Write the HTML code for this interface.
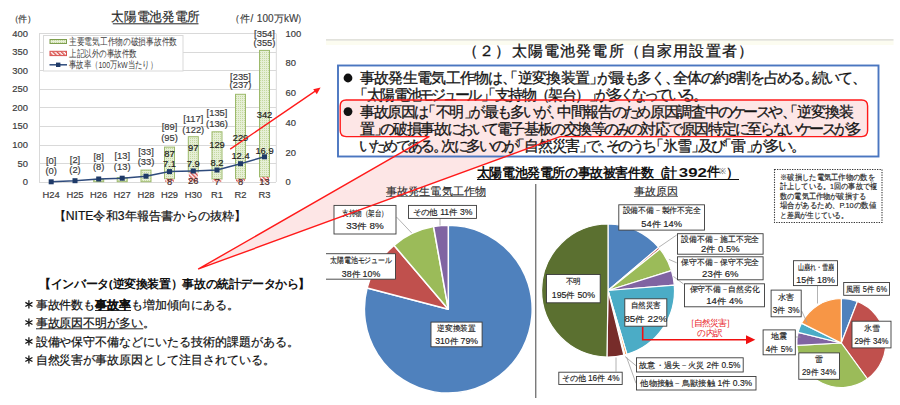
<!DOCTYPE html>
<html><head><meta charset="utf-8">
<style>
html,body{margin:0;padding:0;background:#fff;width:900px;height:405px;overflow:hidden}
body{font-family:"Liberation Sans",sans-serif;position:relative}
svg{position:absolute;left:0;top:0}
</style></head><body>
<svg width="900" height="405" viewBox="0 0 900 405" font-family="Liberation Sans, sans-serif">
<defs>
<pattern id="dots" width="2" height="2" patternUnits="userSpaceOnUse">
<rect width="2" height="2" fill="#e6efd6"/><rect width="1" height="1" fill="#c5d9a0"/>
</pattern>
<pattern id="hatch" width="3" height="3" patternUnits="userSpaceOnUse" patternTransform="rotate(-45)">
<rect width="3" height="3" fill="#fff"/><rect width="1.5" height="3" fill="#d9534f"/>
</pattern>
</defs>
<g stroke="#d9d9d9" stroke-width="1">
<line x1="39" y1="182.5" x2="276" y2="182.5"/>
<line x1="39" y1="163.5" x2="276" y2="163.5"/>
<line x1="39" y1="145.5" x2="276" y2="145.5"/>
<line x1="39" y1="126.5" x2="276" y2="126.5"/>
<line x1="39" y1="107.5" x2="276" y2="107.5"/>
<line x1="39" y1="89.5" x2="276" y2="89.5"/>
<line x1="39" y1="70.5" x2="276" y2="70.5"/>
<line x1="39" y1="52.5" x2="276" y2="52.5"/>
<line x1="39" y1="33.5" x2="276" y2="33.5"/>
<line x1="39.5" y1="33.5" x2="39.5" y2="182"/>
<line x1="276.3" y1="33.5" x2="276.3" y2="182"/>
</g>
<g stroke="#9dba6c" stroke-width="1" fill="url(#dots)">
<rect x="93.7" y="179.4" width="10" height="2.3"/>
<rect x="117.2" y="177.6" width="10" height="4.1"/>
<rect x="141.0" y="170.1" width="10" height="11.6"/>
<rect x="164.5" y="147.1" width="10" height="31.6"/>
<rect x="188.3" y="136.7" width="10" height="35.4"/>
<rect x="212.0" y="131.8" width="10" height="47.3"/>
<rect x="235.5" y="94.3" width="10" height="84.4"/>
<rect x="259.5" y="50.4" width="10" height="126.5"/>
</g>
<g fill="url(#hatch)">
<rect x="165.0" y="178.7" width="9" height="3.0"/>
<rect x="188.8" y="172.0" width="9" height="9.7"/>
<rect x="212.5" y="179.1" width="9" height="2.6"/>
<rect x="236.0" y="178.7" width="9" height="3.0"/>
<rect x="260.0" y="176.9" width="9" height="4.8"/>
</g>
<polyline fill="none" stroke="#2f4b7c" stroke-width="1.5" points="51.2,181.8 75.0,180.7 98.7,179.0 122.2,178.2 146.0,176.2 169.5,171.6 193.3,171.0 217.0,170.0 240.5,163.7 264.5,156.8"/>
<g fill="#1f3a68">
<rect x="48.7" y="179.3" width="5" height="5"/>
<rect x="72.5" y="178.2" width="5" height="5"/>
<rect x="96.2" y="176.5" width="5" height="5"/>
<rect x="119.7" y="175.7" width="5" height="5"/>
<rect x="143.5" y="173.7" width="5" height="5"/>
<rect x="167.0" y="169.1" width="5" height="5"/>
<rect x="190.8" y="168.5" width="5" height="5"/>
<rect x="214.5" y="167.5" width="5" height="5"/>
<rect x="238.0" y="161.2" width="5" height="5"/>
<rect x="262.0" y="154.3" width="5" height="5"/>
</g>
<rect x="43.5" y="35.5" width="139.5" height="35.5" fill="#fff" stroke="#d9d9d9"/>
<rect x="50" y="39.5" width="16.5" height="4" fill="url(#dots)" stroke="#7f9f4f" stroke-width="1"/>
<rect x="50" y="51.3" width="16.5" height="4.3" fill="url(#hatch)" stroke="#d9534f" stroke-width="1"/>
<line x1="49.5" y1="64.8" x2="67" y2="64.8" stroke="#2f4b7c" stroke-width="1.5"/>
<rect x="56" y="62.6" width="4.4" height="4.4" fill="#1f3a68"/>
<text x="28" y="181.7" font-size="9.4" fill="#3a3a3a" text-anchor="end" dominant-baseline="central" stroke="#3a3a3a" stroke-width="0.18">0</text>
<text x="28" y="163.1" font-size="9.4" fill="#3a3a3a" text-anchor="end" dominant-baseline="central" stroke="#3a3a3a" stroke-width="0.18">50</text>
<text x="28" y="144.5" font-size="9.4" fill="#3a3a3a" text-anchor="end" dominant-baseline="central" stroke="#3a3a3a" stroke-width="0.18">100</text>
<text x="28" y="125.9" font-size="9.4" fill="#3a3a3a" text-anchor="end" dominant-baseline="central" stroke="#3a3a3a" stroke-width="0.18">150</text>
<text x="28" y="107.3" font-size="9.4" fill="#3a3a3a" text-anchor="end" dominant-baseline="central" stroke="#3a3a3a" stroke-width="0.18">200</text>
<text x="28" y="88.7" font-size="9.4" fill="#3a3a3a" text-anchor="end" dominant-baseline="central" stroke="#3a3a3a" stroke-width="0.18">250</text>
<text x="28" y="70.2" font-size="9.4" fill="#3a3a3a" text-anchor="end" dominant-baseline="central" stroke="#3a3a3a" stroke-width="0.18">300</text>
<text x="28" y="51.6" font-size="9.4" fill="#3a3a3a" text-anchor="end" dominant-baseline="central" stroke="#3a3a3a" stroke-width="0.18">350</text>
<text x="28" y="33.0" font-size="9.4" fill="#3a3a3a" text-anchor="end" dominant-baseline="central" stroke="#3a3a3a" stroke-width="0.18">400</text>
<text x="285.5" y="181.7" font-size="9.4" fill="#3a3a3a" text-anchor="start" dominant-baseline="central" stroke="#3a3a3a" stroke-width="0.18">0</text>
<text x="285.5" y="152.0" font-size="9.4" fill="#3a3a3a" text-anchor="start" dominant-baseline="central" stroke="#3a3a3a" stroke-width="0.18">20</text>
<text x="285.5" y="122.2" font-size="9.4" fill="#3a3a3a" text-anchor="start" dominant-baseline="central" stroke="#3a3a3a" stroke-width="0.18">40</text>
<text x="285.5" y="92.5" font-size="9.4" fill="#3a3a3a" text-anchor="start" dominant-baseline="central" stroke="#3a3a3a" stroke-width="0.18">60</text>
<text x="285.5" y="62.7" font-size="9.4" fill="#3a3a3a" text-anchor="start" dominant-baseline="central" stroke="#3a3a3a" stroke-width="0.18">80</text>
<text x="285.5" y="33.0" font-size="9.4" fill="#3a3a3a" text-anchor="start" dominant-baseline="central" stroke="#3a3a3a" stroke-width="0.18">100</text>
<text x="51.2" y="194.5" font-size="9.4" fill="#3a3a3a" text-anchor="middle" dominant-baseline="central" stroke="#3a3a3a" stroke-width="0.18">H24</text>
<text x="75" y="194.5" font-size="9.4" fill="#3a3a3a" text-anchor="middle" dominant-baseline="central" stroke="#3a3a3a" stroke-width="0.18">H25</text>
<text x="98.7" y="194.5" font-size="9.4" fill="#3a3a3a" text-anchor="middle" dominant-baseline="central" stroke="#3a3a3a" stroke-width="0.18">H26</text>
<text x="122.2" y="194.5" font-size="9.4" fill="#3a3a3a" text-anchor="middle" dominant-baseline="central" stroke="#3a3a3a" stroke-width="0.18">H27</text>
<text x="146" y="194.5" font-size="9.4" fill="#3a3a3a" text-anchor="middle" dominant-baseline="central" stroke="#3a3a3a" stroke-width="0.18">H28</text>
<text x="169.5" y="194.5" font-size="9.4" fill="#3a3a3a" text-anchor="middle" dominant-baseline="central" stroke="#3a3a3a" stroke-width="0.18">H29</text>
<text x="193.3" y="194.5" font-size="9.4" fill="#3a3a3a" text-anchor="middle" dominant-baseline="central" stroke="#3a3a3a" stroke-width="0.18">H30</text>
<text x="217" y="194.5" font-size="9.4" fill="#3a3a3a" text-anchor="middle" dominant-baseline="central" stroke="#3a3a3a" stroke-width="0.18">R1</text>
<text x="240.5" y="194.5" font-size="9.4" fill="#3a3a3a" text-anchor="middle" dominant-baseline="central" stroke="#3a3a3a" stroke-width="0.18">R2</text>
<text x="264.5" y="194.5" font-size="9.4" fill="#3a3a3a" text-anchor="middle" dominant-baseline="central" stroke="#3a3a3a" stroke-width="0.18">R3</text>
<text x="51.2" y="160.7" font-size="9.4" fill="#3a3a3a" text-anchor="middle" dominant-baseline="central" stroke="#3a3a3a" stroke-width="0.18">[0]</text>
<text x="51.2" y="170.4" font-size="9.4" fill="#3a3a3a" text-anchor="middle" dominant-baseline="central" stroke="#3a3a3a" stroke-width="0.18">(0)</text>
<text x="75" y="159.3" font-size="9.4" fill="#3a3a3a" text-anchor="middle" dominant-baseline="central" stroke="#3a3a3a" stroke-width="0.18">[2]</text>
<text x="75" y="169.6" font-size="9.4" fill="#3a3a3a" text-anchor="middle" dominant-baseline="central" stroke="#3a3a3a" stroke-width="0.18">(2)</text>
<text x="98.7" y="156.7" font-size="9.4" fill="#3a3a3a" text-anchor="middle" dominant-baseline="central" stroke="#3a3a3a" stroke-width="0.18">[8]</text>
<text x="98.7" y="166.7" font-size="9.4" fill="#3a3a3a" text-anchor="middle" dominant-baseline="central" stroke="#3a3a3a" stroke-width="0.18">(8)</text>
<text x="122.2" y="155.5" font-size="9.4" fill="#3a3a3a" text-anchor="middle" dominant-baseline="central" stroke="#3a3a3a" stroke-width="0.18">[13]</text>
<text x="122.2" y="166" font-size="9.4" fill="#3a3a3a" text-anchor="middle" dominant-baseline="central" stroke="#3a3a3a" stroke-width="0.18">(13)</text>
<text x="146" y="151" font-size="9.4" fill="#3a3a3a" text-anchor="middle" dominant-baseline="central" stroke="#3a3a3a" stroke-width="0.18">[33]</text>
<text x="146" y="161.5" font-size="9.4" fill="#3a3a3a" text-anchor="middle" dominant-baseline="central" stroke="#3a3a3a" stroke-width="0.18">(33)</text>
<text x="169.5" y="126" font-size="9.4" fill="#3a3a3a" text-anchor="middle" dominant-baseline="central" stroke="#3a3a3a" stroke-width="0.18">[89]</text>
<text x="169.5" y="137.5" font-size="9.4" fill="#3a3a3a" text-anchor="middle" dominant-baseline="central" stroke="#3a3a3a" stroke-width="0.18">(95)</text>
<text x="193.3" y="118" font-size="9.4" fill="#3a3a3a" text-anchor="middle" dominant-baseline="central" stroke="#3a3a3a" stroke-width="0.18">[117]</text>
<text x="193.3" y="129" font-size="9.4" fill="#3a3a3a" text-anchor="middle" dominant-baseline="central" stroke="#3a3a3a" stroke-width="0.18">(122)</text>
<text x="217" y="112.5" font-size="9.4" fill="#3a3a3a" text-anchor="middle" dominant-baseline="central" stroke="#3a3a3a" stroke-width="0.18">[135]</text>
<text x="217" y="123.5" font-size="9.4" fill="#3a3a3a" text-anchor="middle" dominant-baseline="central" stroke="#3a3a3a" stroke-width="0.18">(136)</text>
<text x="240.5" y="76" font-size="9.4" fill="#3a3a3a" text-anchor="middle" dominant-baseline="central" stroke="#3a3a3a" stroke-width="0.18">[235]</text>
<text x="240.5" y="84.5" font-size="9.4" fill="#3a3a3a" text-anchor="middle" dominant-baseline="central" stroke="#3a3a3a" stroke-width="0.18">(237)</text>
<text x="264.5" y="33.6" font-size="9.4" fill="#3a3a3a" text-anchor="middle" dominant-baseline="central" stroke="#3a3a3a" stroke-width="0.18">[354]</text>
<text x="264.5" y="42.8" font-size="9.4" fill="#3a3a3a" text-anchor="middle" dominant-baseline="central" stroke="#3a3a3a" stroke-width="0.18">(355)</text>
<text x="169.5" y="153" font-size="9.4" fill="#222" text-anchor="middle" dominant-baseline="central" stroke="#222" stroke-width="0.18">87</text>
<text x="169.5" y="163.7" font-size="9.4" fill="#222" text-anchor="middle" dominant-baseline="central" stroke="#222" stroke-width="0.18">7.1</text>
<text x="169.5" y="181" font-size="9.4" fill="#4a2a2a" text-anchor="middle" dominant-baseline="central" stroke="#4a2a2a" stroke-width="0.18">8</text>
<text x="193.3" y="147.6" font-size="9.4" fill="#222" text-anchor="middle" dominant-baseline="central" stroke="#222" stroke-width="0.18">97</text>
<text x="193.3" y="163" font-size="9.4" fill="#222" text-anchor="middle" dominant-baseline="central" stroke="#222" stroke-width="0.18">7.9</text>
<text x="193.3" y="180" font-size="9.4" fill="#4a2a2a" text-anchor="middle" dominant-baseline="central" stroke="#4a2a2a" stroke-width="0.18">26</text>
<text x="217" y="144" font-size="9.4" fill="#222" text-anchor="middle" dominant-baseline="central" stroke="#222" stroke-width="0.18">129</text>
<text x="217" y="162.5" font-size="9.4" fill="#222" text-anchor="middle" dominant-baseline="central" stroke="#222" stroke-width="0.18">8.2</text>
<text x="217" y="181" font-size="9.4" fill="#4a2a2a" text-anchor="middle" dominant-baseline="central" stroke="#4a2a2a" stroke-width="0.18">7</text>
<text x="240.5" y="137" font-size="9.4" fill="#222" text-anchor="middle" dominant-baseline="central" stroke="#222" stroke-width="0.18">229</text>
<text x="240.5" y="155" font-size="9.4" fill="#222" text-anchor="middle" dominant-baseline="central" stroke="#222" stroke-width="0.18">12.4</text>
<text x="240.5" y="181" font-size="9.4" fill="#4a2a2a" text-anchor="middle" dominant-baseline="central" stroke="#4a2a2a" stroke-width="0.18">8</text>
<text x="264.5" y="114.3" font-size="9.4" fill="#222" text-anchor="middle" dominant-baseline="central" stroke="#222" stroke-width="0.18">342</text>
<text x="264.5" y="150" font-size="9.4" fill="#222" text-anchor="middle" dominant-baseline="central" stroke="#222" stroke-width="0.18">16.9</text>
<text x="264.5" y="181" font-size="9.4" fill="#4a2a2a" text-anchor="middle" dominant-baseline="central" stroke="#4a2a2a" stroke-width="0.18">13</text>
<g font-size="9.5" fill="#404040" dominant-baseline="central">
<text x="69" y="41.5" textLength="108" lengthAdjust="spacingAndGlyphs">主要電気工作物の破損事故件数</text>
<text x="69" y="53" textLength="68" lengthAdjust="spacingAndGlyphs">上記以外の事故件数</text>
<text x="69" y="64.5" textLength="88" lengthAdjust="spacingAndGlyphs">事故率（100万kW当たり）</text>
</g>
<text x="155.6" y="17.3" font-size="12.5" fill="#262626" text-anchor="middle" dominant-baseline="central" textLength="88.5" lengthAdjust="spacingAndGlyphs" stroke="#262626" stroke-width="0.15">太陽電池発電所</text>
<line x1="112.8" y1="23.8" x2="198.5" y2="23.8" stroke="#262626" stroke-width="1"/>
<text y="17.5" font-size="10" fill="#404040" dominant-baseline="central" stroke="#404040" stroke-width="0.15"><tspan x="230.3 240.4 250.5 256.8 262.5 268.1 273.9 284.0 289.1 296.7">（件/100万kW）</tspan></text>
<text y="18.5" font-size="8.8" fill="#404040" dominant-baseline="central" stroke="#404040" stroke-width="0.2"><tspan x="9.6 18.4 27.1">（件）</tspan></text>
<text x="150" y="215.6" font-size="12" fill="#111" text-anchor="middle" dominant-baseline="central" textLength="193" lengthAdjust="spacingAndGlyphs" stroke="#111" stroke-width="0.2">【NITE令和3年報告書からの抜粋】</text>
<path d="M346.2,100 H861.6 Q867.6,100 867.6,106 V130.6 Q867.6,136.6 861.6,136.6 H560 L198.6,268.9 L429,136.6 H346.2 Q340.2,136.6 340.2,130.6 V106 Q340.2,100 346.2,100 Z" fill="#fde6e6" stroke="none"/>
<rect x="326" y="40.5" width="567.5" height="4.5" fill="#fcfcf0"/>
<line x1="326" y1="39.8" x2="893.5" y2="39.8" stroke="#d8d8d0" stroke-width="1.3"/>
<text y="50.5" font-size="14.6" fill="#151515" dominant-baseline="central" stroke="#151515" stroke-width="0.3"><tspan x="463.1 479.3 495.4 511.6 527.8 543.9 560.1 576.2 592.4 608.6 624.7 640.9 657.1 673.2 689.4 705.6 721.7 737.9">（２）太陽電池発電所（自家用設置者）</tspan></text>
<rect x="338" y="65.5" width="540.5" height="91" fill="none" stroke="#4a76c0" stroke-width="1.9"/>
<circle cx="348" cy="78" r="4.4" fill="#111"/>
<circle cx="348" cy="111.6" r="4.4" fill="#111"/>
<text y="78" font-size="14.6" fill="#151515" dominant-baseline="central" stroke="#151515" stroke-width="0.3"><tspan x="359.8 374.1 388.4 402.7 417.0 431.3 445.6 459.9 474.2 487.8 501.5 503.2 517.7 532.0 546.3 560.6 574.9 589.3 596.6 610.2 623.7 637.3 650.9 664.6 672.6 686.9 700.5 714.1 728.5 736.3 749.9 763.5 777.1 789.9 803.7 811.7 825.3 838.1 851.9">事故発生電気工作物は、「逆変換装置」が最も多く、全体の約8割を占める。続いて、</tspan></text>
<text y="94.7" font-size="14.6" fill="#151515" dominant-baseline="central" stroke="#151515" stroke-width="0.3"><tspan x="353.0 366.9 380.2 393.5 406.8 419.4 431.4 443.4 455.3 467.3 480.6 481.1 495.1 508.4 521.7 535.0 548.3 561.6 574.8 588.8 595.1 607.7 620.3 632.3 644.2 656.2 668.2 680.1 693.4">「太陽電池モジュール」「支持物（架台）」が多くなっている。</tspan></text>
<text y="111.8" font-size="14.6" fill="#151515" dominant-baseline="central" stroke="#151515" stroke-width="0.3"><tspan x="359.6 373.5 387.4 401.2 414.4 421.3 435.5 449.4 463.6 470.4 483.6 496.8 510.0 523.1 535.6 549.2 556.7 570.6 584.4 598.3 611.5 624.0 636.4 649.6 663.5 677.3 691.2 705.1 718.3 730.7 743.2 755.7 768.2 781.7 782.9 797.2 811.0 824.9 838.8">事故原因は「不明」が最も多いが、中間報告のため原因調査中のケースや、「逆変換装</tspan></text>
<text y="128.5" font-size="14.6" fill="#151515" dominant-baseline="central" stroke="#151515" stroke-width="0.3"><tspan x="359.5 373.6 380.2 393.2 406.8 420.4 434.0 447.0 459.2 471.5 483.8 496.7 510.3 524.0 537.6 550.5 563.5 577.1 590.7 603.7 615.9 628.2 641.1 654.8 667.7 680.7 694.3 707.9 721.5 734.5 747.4 760.4 772.6 784.9 797.2 809.4 821.7 833.9 846.9">置」の破損事故において電子基板の交換等のみの対応で原因特定に至らないケースが多</tspan></text>
<text y="146.3" font-size="14.6" fill="#151515" dominant-baseline="central" stroke="#151515" stroke-width="0.3"><tspan x="358.8 371.0 383.3 395.5 407.7 419.9 433.3 440.6 453.5 466.4 479.3 491.5 503.7 510.2 524.3 537.9 551.5 565.1 579.2 585.7 599.1 605.7 617.9 630.1 642.3 648.9 663.0 676.6 690.6 697.9 710.8 717.3 731.4 745.5 752.1 764.9 777.8 791.3">いためである。次に多いのが「自然災害」で、そのうち「氷雪」及び「雷」が多い。</tspan></text>
<text y="172.3" font-size="13" fill="#111" dominant-baseline="central" font-weight="bold"><tspan x="476.8 489.4 502.0 514.6 527.2 539.8 552.4 565.0 577.6 590.2 602.8 615.4 628.0 640.6">太陽電池発電所の事故被害件数</tspan></text>
<text x="652.5" y="172.3" font-size="13" fill="#111" dominant-baseline="central" font-weight="bold">（</text>
<text x="664.3" y="172.3" font-size="13" fill="#111" dominant-baseline="central" font-weight="bold">計</text>
<text x="678.8" y="172.3" font-size="13.6" fill="#111" dominant-baseline="central" font-weight="bold" textLength="28" lengthAdjust="spacingAndGlyphs">392</text>
<text x="707.3" y="172.3" font-size="12.5" fill="#111" dominant-baseline="central" font-weight="bold">件</text>
<text x="718.5" y="171" font-size="8.5" fill="#666" dominant-baseline="central">※</text>
<text x="726.2" y="172.3" font-size="13" fill="#111" dominant-baseline="central" font-weight="bold">）</text>
<line x1="477" y1="179.5" x2="739" y2="179.5" stroke="#111" stroke-width="1"/>
<line x1="535.8" y1="184" x2="535.8" y2="398" stroke="#444" stroke-width="1"/>
<text x="436" y="190.9" font-size="11.2" fill="#2a2a2a" text-anchor="middle" dominant-baseline="central" textLength="100" lengthAdjust="spacingAndGlyphs" stroke="#2a2a2a" stroke-width="0.12">事故発生電気工作物</text>
<line x1="386" y1="196.5" x2="486" y2="196.5" stroke="#555" stroke-width="0.8"/>
<text x="656" y="190.5" font-size="11.2" fill="#2a2a2a" text-anchor="middle" dominant-baseline="central" textLength="44" lengthAdjust="spacingAndGlyphs" stroke="#2a2a2a" stroke-width="0.12">事故原因</text>
<line x1="634" y1="196.5" x2="678" y2="196.5" stroke="#555" stroke-width="0.8"/>
<path d="M448.30,309.20 L448.30,225.30 A83.9,83.9 0 1 1 367.14,287.92 Z" fill="#4f81bd" stroke="#fff" stroke-width="1.5" stroke-linejoin="round"/>
<path d="M448.30,309.20 L367.14,287.92 A83.9,83.9 0 0 1 393.91,245.31 Z" fill="#c0504d" stroke="#fff" stroke-width="1.5" stroke-linejoin="round"/>
<path d="M448.30,309.20 L393.91,245.31 A83.9,83.9 0 0 1 433.58,226.60 Z" fill="#9bbb59" stroke="#fff" stroke-width="1.5" stroke-linejoin="round"/>
<path d="M448.30,309.20 L433.58,226.60 A83.9,83.9 0 0 1 448.30,225.30 Z" fill="#8064a2" stroke="#fff" stroke-width="1.5" stroke-linejoin="round"/>
<path d="M608.00,290.50 L608.00,224.00 A66.5,66.5 0 0 1 658.64,247.39 Z" fill="#4f81bd" stroke="#fff" stroke-width="1.2" stroke-linejoin="round"/>
<path d="M608.00,290.50 L658.64,247.39 A66.5,66.5 0 0 1 659.99,249.04 Z" fill="#c0504d" stroke="#fff" stroke-width="1.2" stroke-linejoin="round"/>
<path d="M608.00,290.50 L659.99,249.04 A66.5,66.5 0 0 1 671.44,270.56 Z" fill="#9bbb59" stroke="#fff" stroke-width="1.2" stroke-linejoin="round"/>
<path d="M608.00,290.50 L671.44,270.56 A66.5,66.5 0 0 1 674.29,285.18 Z" fill="#8064a2" stroke="#fff" stroke-width="1.2" stroke-linejoin="round"/>
<path d="M608.00,290.50 L674.29,285.18 A66.5,66.5 0 0 1 626.92,354.25 Z" fill="#4bacc6" stroke="#fff" stroke-width="1.2" stroke-linejoin="round"/>
<path d="M608.00,290.50 L626.92,354.25 A66.5,66.5 0 0 1 624.87,354.83 Z" fill="#f79646" stroke="#fff" stroke-width="1.2" stroke-linejoin="round"/>
<path d="M608.00,290.50 L624.87,354.83 A66.5,66.5 0 0 1 623.83,355.09 Z" fill="#b9cde5" stroke="#fff" stroke-width="1.2" stroke-linejoin="round"/>
<path d="M608.00,290.50 L623.83,355.09 A66.5,66.5 0 0 1 606.93,356.99 Z" fill="#772c2a" stroke="#fff" stroke-width="1.2" stroke-linejoin="round"/>
<path d="M608.00,290.50 L606.93,356.99 A66.5,66.5 0 0 1 608.00,224.00 Z" fill="#5b7030" stroke="#fff" stroke-width="1.2" stroke-linejoin="round"/>
<path d="M841.30,343.00 L841.30,298.50 A44.5,44.5 0 0 1 857.38,301.50 Z" fill="#4f81bd" stroke="#fff" stroke-width="1.2" stroke-linejoin="round"/>
<path d="M841.30,343.00 L857.38,301.50 A44.5,44.5 0 0 1 867.46,379.00 Z" fill="#c0504d" stroke="#fff" stroke-width="1.2" stroke-linejoin="round"/>
<path d="M841.30,343.00 L867.46,379.00 A44.5,44.5 0 0 1 796.87,345.47 Z" fill="#9bbb59" stroke="#fff" stroke-width="1.2" stroke-linejoin="round"/>
<path d="M841.30,343.00 L796.87,345.47 A44.5,44.5 0 0 1 798.08,332.41 Z" fill="#8064a2" stroke="#fff" stroke-width="1.2" stroke-linejoin="round"/>
<path d="M841.30,343.00 L798.08,332.41 A44.5,44.5 0 0 1 801.47,323.16 Z" fill="#4bacc6" stroke="#fff" stroke-width="1.2" stroke-linejoin="round"/>
<path d="M841.30,343.00 L801.47,323.16 A44.5,44.5 0 0 1 841.30,298.50 Z" fill="#f79646" stroke="#fff" stroke-width="1.2" stroke-linejoin="round"/>
<g stroke="#a0a0a0" stroke-width="0.8" fill="none">
<polyline points="396.5,217 411.7,233"/>
<polyline points="440,219 440,225.5"/>
<polyline points="676.7,235 658.9,247.2"/>
<polyline points="676.7,262.8 668.9,259.4"/>
<polyline points="683.5,284 673.5,276.5"/>
<polyline points="636,365.7 625,356.5"/>
<polyline points="636,383.3 626.5,357"/>
<polyline points="616,371.7 616,357.5"/>
<polyline points="817.5,286 817.5,303.5"/>
<polyline points="801.7,311 807,322.5"/>
<polyline points="795.8,337 800.5,337"/>
</g>
<rect x="431.0" y="322.1" width="51.1" height="24.7" fill="#fff" stroke="#3a3a3a" stroke-width="0.9"/>
<text x="456.6" y="328.7" font-size="8.2" fill="#222" text-anchor="middle" dominant-baseline="central" textLength="38.6" lengthAdjust="spacingAndGlyphs" stroke="#222" stroke-width="0.15">逆変換装置</text>
<text x="456.6" y="341.7" font-size="8.2" fill="#222" text-anchor="middle" dominant-baseline="central" textLength="42.8" lengthAdjust="spacingAndGlyphs" stroke="#222" stroke-width="0.15">310件 79%</text>
<rect x="326" y="253.7" width="69.5" height="25.5" fill="#fff"/>
<polyline points="326,253.7 395.5,253.7 395.5,279.2 326,279.2" fill="none" stroke="#3a3a3a" stroke-width="0.9"/>
<text x="361.0" y="260.8" font-size="8.2" fill="#222" text-anchor="middle" dominant-baseline="central" textLength="62" lengthAdjust="spacingAndGlyphs" stroke="#222" stroke-width="0.15">太陽電池モジュール</text>
<text x="361.0" y="274.6" font-size="8.2" fill="#222" text-anchor="middle" dominant-baseline="central" textLength="38.5" lengthAdjust="spacingAndGlyphs" stroke="#222" stroke-width="0.15">38件 10%</text>
<rect x="334.0" y="205.4" width="62.0" height="28.6" fill="#fff" stroke="#3a3a3a" stroke-width="0.9"/>
<text x="365.0" y="213.5" font-size="8.2" fill="#222" text-anchor="middle" dominant-baseline="central" textLength="46" lengthAdjust="spacingAndGlyphs" stroke="#222" stroke-width="0.15">支持物（架台）</text>
<text x="365.0" y="226.6" font-size="8.2" fill="#222" text-anchor="middle" dominant-baseline="central" textLength="37.5" lengthAdjust="spacingAndGlyphs" stroke="#222" stroke-width="0.15">33件 8%</text>
<rect x="408.5" y="205.4" width="68.0" height="13.0" fill="#fff" stroke="#3a3a3a" stroke-width="0.9"/>
<text x="442.5" y="212.3" font-size="8.2" fill="#222" text-anchor="middle" dominant-baseline="central" textLength="60" lengthAdjust="spacingAndGlyphs" stroke="#222" stroke-width="0.15">その他 11件 3%</text>
<rect x="618.8" y="204.8" width="85.7" height="25.3" fill="#fff" stroke="#3a3a3a" stroke-width="0.9"/>
<text x="661.6" y="210.7" font-size="8.2" fill="#222" text-anchor="middle" dominant-baseline="central" textLength="78" lengthAdjust="spacingAndGlyphs" stroke="#222" stroke-width="0.15">設備不備－製作不完全</text>
<text x="661.6" y="224.2" font-size="8.2" fill="#222" text-anchor="middle" dominant-baseline="central" textLength="40.7" lengthAdjust="spacingAndGlyphs" stroke="#222" stroke-width="0.15">54件 14%</text>
<rect x="677.5" y="233.7" width="85.6" height="20.5" fill="#fff" stroke="#3a3a3a" stroke-width="0.9"/>
<text x="720.3" y="239" font-size="8.2" fill="#222" text-anchor="middle" dominant-baseline="central" textLength="78" lengthAdjust="spacingAndGlyphs" stroke="#222" stroke-width="0.15">設備不備－施工不完全</text>
<text x="720.3" y="249.5" font-size="8.2" fill="#222" text-anchor="middle" dominant-baseline="central" textLength="38.5" lengthAdjust="spacingAndGlyphs" stroke="#222" stroke-width="0.15">2件 0.5%</text>
<rect x="677.5" y="256.8" width="85.6" height="23.0" fill="#fff" stroke="#3a3a3a" stroke-width="0.9"/>
<text x="720.3" y="262.5" font-size="8.2" fill="#222" text-anchor="middle" dominant-baseline="central" textLength="78" lengthAdjust="spacingAndGlyphs" stroke="#222" stroke-width="0.15">保守不備－保守不完全</text>
<text x="720.3" y="274.5" font-size="8.2" fill="#222" text-anchor="middle" dominant-baseline="central" textLength="36.4" lengthAdjust="spacingAndGlyphs" stroke="#222" stroke-width="0.15">23件 6%</text>
<rect x="684.5" y="283.8" width="80.0" height="23.0" fill="#fff" stroke="#3a3a3a" stroke-width="0.9"/>
<text x="724.5" y="289.5" font-size="8.2" fill="#222" text-anchor="middle" dominant-baseline="central" textLength="70" lengthAdjust="spacingAndGlyphs" stroke="#222" stroke-width="0.15">保守不備－自然劣化</text>
<text x="724.5" y="301.5" font-size="8.2" fill="#222" text-anchor="middle" dominant-baseline="central" textLength="36.4" lengthAdjust="spacingAndGlyphs" stroke="#222" stroke-width="0.15">14件 4%</text>
<rect x="546.5" y="274.5" width="53.7" height="28.3" fill="#fff" stroke="#3a3a3a" stroke-width="0.9"/>
<text x="573.4" y="281.5" font-size="8.2" fill="#222" text-anchor="middle" dominant-baseline="central" textLength="15" lengthAdjust="spacingAndGlyphs" stroke="#222" stroke-width="0.15">不明</text>
<text x="573.4" y="295" font-size="8.2" fill="#222" text-anchor="middle" dominant-baseline="central" textLength="43.3" lengthAdjust="spacingAndGlyphs" stroke="#222" stroke-width="0.15">195件 50%</text>
<rect x="624.8" y="298.8" width="42.0" height="27.4" fill="#fff" stroke="#3a3a3a" stroke-width="0.9"/>
<text x="645.8" y="305.5" font-size="8.2" fill="#222" text-anchor="middle" dominant-baseline="central" textLength="30" lengthAdjust="spacingAndGlyphs" stroke="#222" stroke-width="0.15">自然災害</text>
<text x="645.8" y="319.5" font-size="8.2" fill="#222" text-anchor="middle" dominant-baseline="central" textLength="42.8" lengthAdjust="spacingAndGlyphs" stroke="#222" stroke-width="0.15">85件 22%</text>
<rect x="636.5" y="357.8" width="106.7" height="14.2" fill="#fff" stroke="#3a3a3a" stroke-width="0.9"/>
<text x="689.9" y="365.3" font-size="8.2" fill="#222" text-anchor="middle" dominant-baseline="central" textLength="101" lengthAdjust="spacingAndGlyphs" stroke="#222" stroke-width="0.15">故意・過失－火災 2件 0.5%</text>
<rect x="636.5" y="376.5" width="119.5" height="13.5" fill="#fff" stroke="#3a3a3a" stroke-width="0.9"/>
<text x="696.2" y="383.5" font-size="8.2" fill="#222" text-anchor="middle" dominant-baseline="central" textLength="112" lengthAdjust="spacingAndGlyphs" stroke="#222" stroke-width="0.15">他物接触－鳥獣接触 1件 0.3%</text>
<rect x="558.8" y="372.2" width="63.4" height="12.3" fill="#fff" stroke="#3a3a3a" stroke-width="0.9"/>
<text x="590.5" y="378.4" font-size="8.2" fill="#222" text-anchor="middle" dominant-baseline="central" textLength="58" lengthAdjust="spacingAndGlyphs" stroke="#222" stroke-width="0.15">その他 16件 4%</text>
<rect x="793.5" y="260.7" width="44.0" height="24.9" fill="#fff" stroke="#3a3a3a" stroke-width="0.9"/>
<text x="815.5" y="267.5" font-size="8.2" fill="#222" text-anchor="middle" dominant-baseline="central" textLength="36" lengthAdjust="spacingAndGlyphs" stroke="#222" stroke-width="0.15">山崩れ・雪崩</text>
<text x="815.5" y="280" font-size="8.2" fill="#222" text-anchor="middle" dominant-baseline="central" textLength="38.5" lengthAdjust="spacingAndGlyphs" stroke="#222" stroke-width="0.15">15件 18%</text>
<rect x="843.7" y="282.5" width="45.8" height="12.8" fill="#fff" stroke="#3a3a3a" stroke-width="0.9"/>
<text x="866.6" y="289" font-size="8.2" fill="#222" text-anchor="middle" dominant-baseline="central" textLength="41" lengthAdjust="spacingAndGlyphs" stroke="#222" stroke-width="0.15">風雨 5件 6%</text>
<rect x="771.1" y="290.1" width="30.1" height="26.7" fill="#fff" stroke="#3a3a3a" stroke-width="0.9"/>
<text x="786.2" y="297" font-size="8.2" fill="#222" text-anchor="middle" dominant-baseline="central" textLength="16" lengthAdjust="spacingAndGlyphs" stroke="#222" stroke-width="0.15">水害</text>
<text x="786.2" y="310" font-size="8.2" fill="#222" text-anchor="middle" dominant-baseline="central" textLength="26.8" lengthAdjust="spacingAndGlyphs" stroke="#222" stroke-width="0.15">3件 3%</text>
<rect x="852.0" y="321.2" width="39.0" height="26.7" fill="#fff" stroke="#3a3a3a" stroke-width="0.9"/>
<text x="871.5" y="328.5" font-size="8.2" fill="#222" text-anchor="middle" dominant-baseline="central" textLength="16" lengthAdjust="spacingAndGlyphs" stroke="#222" stroke-width="0.15">氷雪</text>
<text x="871.5" y="341.5" font-size="8.2" fill="#222" text-anchor="middle" dominant-baseline="central" textLength="34.2" lengthAdjust="spacingAndGlyphs" stroke="#222" stroke-width="0.15">29件 34%</text>
<rect x="763.1" y="329.9" width="32.2" height="24.9" fill="#fff" stroke="#3a3a3a" stroke-width="0.9"/>
<text x="779.2" y="336.5" font-size="8.2" fill="#222" text-anchor="middle" dominant-baseline="central" textLength="16" lengthAdjust="spacingAndGlyphs" stroke="#222" stroke-width="0.15">地震</text>
<text x="779.2" y="349" font-size="8.2" fill="#222" text-anchor="middle" dominant-baseline="central" textLength="26.8" lengthAdjust="spacingAndGlyphs" stroke="#222" stroke-width="0.15">4件 5%</text>
<rect x="798.8" y="352.9" width="40.7" height="26.4" fill="#fff" stroke="#3a3a3a" stroke-width="0.9"/>
<text x="819.1" y="359.5" font-size="8.2" fill="#222" text-anchor="middle" dominant-baseline="central" textLength="8" lengthAdjust="spacingAndGlyphs" stroke="#222" stroke-width="0.15">雷</text>
<text x="819.1" y="372.5" font-size="8.2" fill="#222" text-anchor="middle" dominant-baseline="central" textLength="34.2" lengthAdjust="spacingAndGlyphs" stroke="#222" stroke-width="0.15">29件 34%</text>
<rect x="774.5" y="169.5" width="107.5" height="53" fill="#fff" stroke="#333" stroke-width="1.1" stroke-dasharray="1.3,1.2"/>
<text x="780" y="177.3" font-size="8" fill="#222" text-anchor="start" dominant-baseline="central" textLength="95" lengthAdjust="spacingAndGlyphs" stroke="#222" stroke-width="0.15">※破損した電気工作物の数を</text>
<text x="780" y="186.7" font-size="8" fill="#222" text-anchor="start" dominant-baseline="central" textLength="97" lengthAdjust="spacingAndGlyphs" stroke="#222" stroke-width="0.15">計上している。1回の事故で複</text>
<text x="780" y="196" font-size="8" fill="#222" text-anchor="start" dominant-baseline="central" textLength="86" lengthAdjust="spacingAndGlyphs" stroke="#222" stroke-width="0.15">数の電気工作物が破損する</text>
<text x="780" y="205.5" font-size="8" fill="#222" text-anchor="start" dominant-baseline="central" textLength="96" lengthAdjust="spacingAndGlyphs" stroke="#222" stroke-width="0.15">場合があるため、P.10の数値</text>
<text x="780" y="215" font-size="8" fill="#222" text-anchor="start" dominant-baseline="central" textLength="68" lengthAdjust="spacingAndGlyphs" stroke="#222" stroke-width="0.15">と差異が生じている。</text>
<text y="322.7" font-size="9" fill="#e8191e" dominant-baseline="central"><tspan x="685.6 693.8 701.9 710.1 718.2 726.4">［自然災害］</tspan></text>
<text x="710" y="333.3" font-size="9" fill="#e8191e" text-anchor="middle" dominant-baseline="central" textLength="26" lengthAdjust="spacingAndGlyphs">の内訳</text>
<polyline points="642.7,327 642.7,339.7 747,339.7" fill="none" stroke="#f01010" stroke-width="1.6"/>
<polygon points="746,335.2 755.3,339.7 746,344.2" fill="#f01010"/>
<path d="M346.2,100 H861.6 Q867.6,100 867.6,106 V130.6 Q867.6,136.6 861.6,136.6 H560 L198.6,268.9 L429,136.6 H346.2 Q340.2,136.6 340.2,130.6 V106 Q340.2,100 346.2,100 Z" fill="none" stroke="#ff1a1a" stroke-width="1.4" stroke-linejoin="round"/>
<line x1="230.2" y1="149.1" x2="317" y2="89.9" stroke="#ff1a1a" stroke-width="1.3"/>
<polygon points="320.6,87.5 313.2,89.2 316.8,94.3" fill="#ff1a1a"/>
<text y="283.2" font-size="11.6" fill="#111" dominant-baseline="central" font-weight="bold"><tspan x="39.0 50.6 62.2 73.9 85.5 97.1 108.7 112.5 124.2 135.8 147.4 159.0 170.6 182.2 193.8 205.5 217.1 228.7 240.3 251.9 263.5 275.2 286.8 298.4">【インバータ(逆変換装置）事故の統計データから】</tspan></text>
<line x1="28.90" y1="300.30" x2="28.90" y2="308.50" stroke="#111" stroke-width="1.25"/><line x1="25.35" y1="302.35" x2="32.45" y2="306.45" stroke="#111" stroke-width="1.25"/><line x1="32.45" y1="302.35" x2="25.35" y2="306.45" stroke="#111" stroke-width="1.25"/>
<line x1="28.90" y1="318.40" x2="28.90" y2="326.60" stroke="#111" stroke-width="1.25"/><line x1="25.35" y1="320.45" x2="32.45" y2="324.55" stroke="#111" stroke-width="1.25"/><line x1="32.45" y1="320.45" x2="25.35" y2="324.55" stroke="#111" stroke-width="1.25"/>
<line x1="28.90" y1="337.30" x2="28.90" y2="345.50" stroke="#111" stroke-width="1.25"/><line x1="25.35" y1="339.35" x2="32.45" y2="343.45" stroke="#111" stroke-width="1.25"/><line x1="32.45" y1="339.35" x2="25.35" y2="343.45" stroke="#111" stroke-width="1.25"/>
<line x1="28.90" y1="355.40" x2="28.90" y2="363.60" stroke="#111" stroke-width="1.25"/><line x1="25.35" y1="357.45" x2="32.45" y2="361.55" stroke="#111" stroke-width="1.25"/><line x1="32.45" y1="357.45" x2="25.35" y2="361.55" stroke="#111" stroke-width="1.25"/>
<text y="303.8" font-size="11.6" fill="#111" dominant-baseline="central" stroke="#111" stroke-width="0.2"><tspan x="23.6 35.5 47.5 59.4 71.4 83.3">　事故件数も</tspan><tspan x="95.3 107.2 119.2" font-weight="bold">事故率</tspan><tspan x="131.1 143.1 155.0 167.0 178.9 190.9 202.8 214.8 226.7">も増加傾向にある。</tspan></text>
<line x1="95" y1="310.5" x2="131" y2="310.5" stroke="#111" stroke-width="0.9"/>
<text y="322.09999999999997" font-size="11.6" fill="#111" dominant-baseline="central" stroke="#111" stroke-width="0.2"><tspan x="23.6 35.5 47.5 59.4 71.4 83.3 95.3 107.2 119.2 131.1 143.1">　事故原因不明が多い。</tspan></text>
<line x1="36" y1="328.8" x2="143.3" y2="328.8" stroke="#111" stroke-width="0.9"/>
<text y="340.8" font-size="11.6" fill="#111" dominant-baseline="central" stroke="#111" stroke-width="0.2"><tspan x="23.6 35.5 47.5 59.4 71.4 83.3 95.3 107.2 119.2 131.1 143.1 155.0 167.0 178.9 190.9 202.8 214.8 226.7 238.7 250.6 262.6 274.5 286.5">　設備や保守不備などにいたる技術的課題がある。</tspan></text>
<text y="358.9" font-size="11.6" fill="#111" dominant-baseline="central" stroke="#111" stroke-width="0.2"><tspan x="23.6 35.5 47.5 59.4 71.4 83.3 95.3 107.2 119.2 131.1 143.1 155.0 167.0 178.9 190.9 202.8 214.8 226.7 238.7 250.6 262.6">　自然災害が事故原因として注目されている。</tspan></text>
</svg>
</body></html>
